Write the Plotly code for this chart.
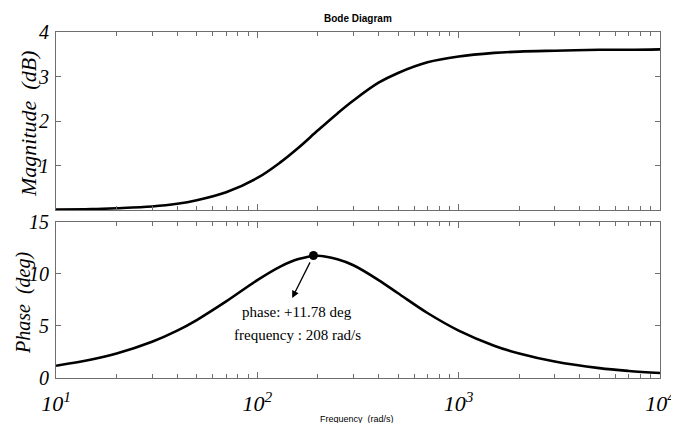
import numpy as np
import plotly.graph_objects as go

# ---- data ----
freq = [10, 15, 20, 30, 40, 50, 70, 100, 130, 160, 200, 250, 300, 400, 500,
        700, 1000, 1500, 2000, 3000, 5000, 7000, 10000]
mag_db = [0.01, 0.02, 0.04, 0.08, 0.14, 0.22, 0.40, 0.72, 1.07, 1.40, 1.79,
          2.17, 2.46, 2.86, 3.08, 3.32, 3.45, 3.53, 3.56, 3.58, 3.60, 3.60, 3.61]
phase_deg = [1.18, 1.77, 2.35, 3.48, 4.55, 5.57, 7.36, 9.41, 10.71, 11.43, 11.76,
             11.42, 10.84, 9.42, 8.15, 6.25, 4.56, 3.11, 2.35, 1.58, 0.95, 0.68, 0.48]
peak_freq = [190]
peak_phase = [11.78]
arrow_head = (149, 7.7)
x_tickvals = [10, 100, 1000, 10000]
x_ticktext = ["10<sup>1</sup>", "10<sup>2</sup>", "10<sup>3</sup>", "10<sup>4</sup>"]
mag_ticks = [1, 2, 3, 4]
phase_ticks = [0, 5, 10, 15]
minor_vals = [m * 10 ** k for k in range(1, 4) for m in range(2, 10)]

serif = "Liberation Serif"
frame = "#6e6e6e"

# page body has an 8px default margin, so the figure is sized/offset to compensate
W, H = 671, 415
L, T = 48, 24
PLOT_W = 604
PLOT_H = 346

fig = go.Figure()
fig.add_trace(go.Scatter(x=freq, y=mag_db, mode="lines", line=dict(color="black", width=2.6, shape="spline"),
                         xaxis="x", yaxis="y", showlegend=False))
fig.add_trace(go.Scatter(x=freq, y=phase_deg, mode="lines", line=dict(color="black", width=2.6, shape="spline"),
                         xaxis="x2", yaxis="y2", showlegend=False))
fig.add_trace(go.Scatter(x=peak_freq, y=peak_phase, mode="markers",
                         marker=dict(color="black", size=9, symbol="circle"),
                         xaxis="x2", yaxis="y2", showlegend=False))

xcommon = dict(type="log", range=[1, 4], showline=True, linecolor=frame, linewidth=1, mirror="ticks",
               ticks="inside", ticklen=6, tickcolor=frame, tickvals=x_tickvals, showgrid=False, zeroline=False,
               automargin=False,
               minor=dict(tickvals=minor_vals, ticks="inside", ticklen=4, tickcolor=frame, showgrid=False))
ycommon = dict(showline=True, linecolor=frame, linewidth=1, mirror="ticks", ticks="inside", ticklen=5,
               tickcolor=frame, showgrid=False, zeroline=False, automargin=False, ticklabelstandoff=2,
               tickfont=dict(family=serif, size=20, color="black", style="italic"))

fig.update_layout(
    width=W, height=H,
    margin=dict(l=L, r=W - L - PLOT_W, t=T, b=H - T - PLOT_H, autoexpand=False),
    paper_bgcolor="white", plot_bgcolor="white",
    xaxis=dict(**xcommon, anchor="y", domain=[0, 1], showticklabels=False, matches="x2"),
    xaxis2=dict(**xcommon, anchor="y2", domain=[0, 1], ticktext=x_ticktext,
                tickfont=dict(family=serif, size=22, color="black", style="italic"), ticklabelstandoff=6),
    yaxis=dict(**ycommon, anchor="x", domain=[0.4855, 1.0], range=[0, 4], tickvals=mag_ticks),
    yaxis2=dict(**ycommon, anchor="x2", domain=[0.0, 0.4509], range=[0, 15], tickvals=phase_ticks),
)


def px(xp):
    return (xp - 56) / PLOT_W


def py(yp):
    return (378 - yp) / PLOT_H


annotations = [
    dict(text="<b>Bode Diagram</b>", xref="paper", yref="paper", x=px(358), y=py(18),
         xanchor="center", yanchor="middle", showarrow=False,
         font=dict(family="Liberation Sans Narrow, Liberation Sans", size=10, color="black")),
    dict(text="Frequency  (rad/s)", xref="paper", yref="paper", x=px(357), y=py(419),
         xanchor="center", yanchor="middle", showarrow=False,
         font=dict(family="Liberation Sans Narrow, Liberation Sans", size=9, color="black")),
    dict(text="Magnitude  (dB)", xref="paper", yref="paper", x=px(29), y=py(124), textangle=-90,
         xanchor="center", yanchor="middle", showarrow=False,
         font=dict(family=serif, size=22, color="black", style="italic")),
    dict(text="Phase  (deg)", xref="paper", yref="paper", x=px(23), y=py(303), textangle=-90,
         xanchor="center", yanchor="middle", showarrow=False,
         font=dict(family=serif, size=20, color="black", style="italic")),
    dict(text="", x=np.log10(arrow_head[0]), y=arrow_head[1], xref="x2", yref="y2",
         ax=np.log10(peak_freq[0]), ay=peak_phase[0], axref="x2", ayref="y2",
         showarrow=True, arrowhead=2, arrowsize=1.1, arrowwidth=1.3, arrowcolor="black", startstandoff=6),
    dict(text="phase: +11.78 deg", xref="paper", yref="paper", x=px(297), y=py(312),
         xanchor="center", yanchor="middle", showarrow=False,
         font=dict(family=serif, size=15, color="black")),
    dict(text="frequency : 208 rad/s", xref="paper", yref="paper", x=px(297), y=py(335),
         xanchor="center", yanchor="middle", showarrow=False,
         font=dict(family=serif, size=15, color="black")),
]
fig.update_layout(annotations=annotations)

fig.write_html("out.html")
